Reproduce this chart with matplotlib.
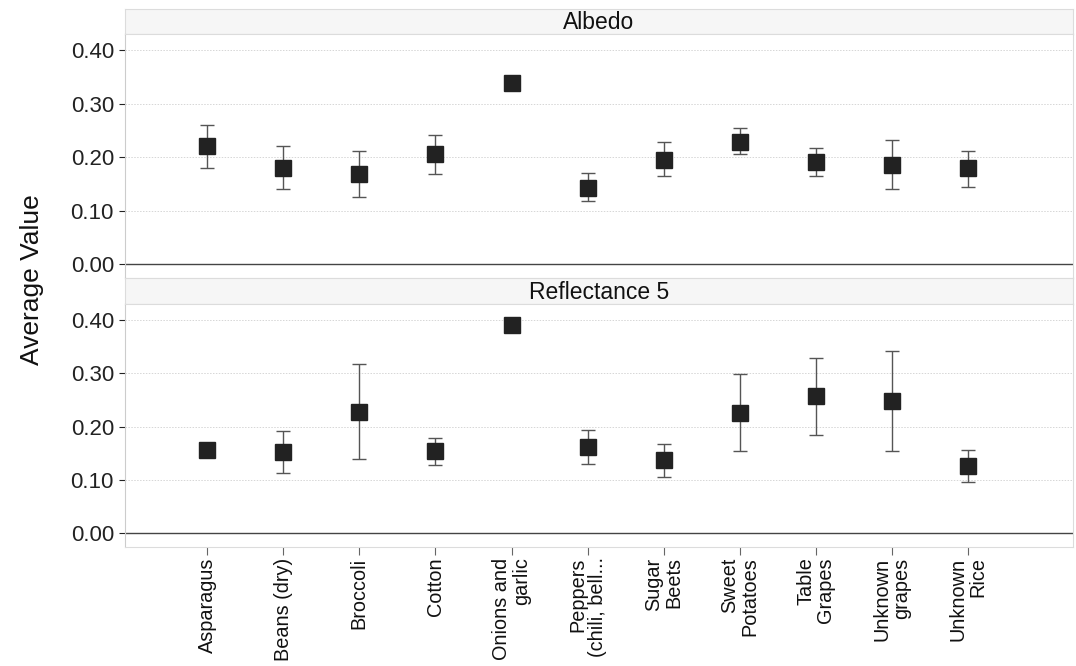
import matplotlib.pyplot as plt

plt.rcParams['font.family'] = ['Liberation Sans', 'DejaVu Sans']

# categories (x tick labels)
crops = ["Asparagus", "Beans (dry)", "Broccoli", "Cotton", "Onions and\ngarlic",
         "Peppers\n(chili, bell...", "Sugar\nBeets", "Sweet\nPotatoes", "Table\nGrapes",
         "Unknown\ngrapes", "Unknown\nRice"]

# Albedo: mean, upper whisker, lower whisker (None = no error bar)
albedo = [0.220, 0.180, 0.169, 0.206, 0.338, 0.143, 0.195, 0.229, 0.190, 0.185, 0.179]
albedo_hi = [0.259, 0.220, 0.212, 0.242, None, 0.170, 0.228, 0.255, 0.217, 0.231, 0.212]
albedo_lo = [0.180, 0.140, 0.125, 0.168, None, 0.118, 0.164, 0.205, 0.164, 0.140, 0.145]

# Reflectance 5
refl = [0.156, 0.152, 0.228, 0.154, 0.390, 0.162, 0.137, 0.226, 0.257, 0.248, 0.126]
refl_hi = [None, 0.192, 0.317, 0.178, None, 0.193, 0.168, 0.298, 0.329, 0.342, 0.156]
refl_lo = [None, 0.112, 0.140, 0.128, None, 0.129, 0.106, 0.154, 0.185, 0.155, 0.096]

W, H = 1076, 666
fig = plt.figure(figsize=(W / 100, H / 100), dpi=100)

left, right = 125, 1073
panels = [
    ("Albedo", albedo, albedo_hi, albedo_lo, 9, 34, 278),
    ("Reflectance 5", refl, refl_hi, refl_lo, 278, 304, 547),
]

x = list(range(len(crops)))
axes = []
for title, vals, hi, lo, s_top, p_top, p_bot in panels:
    # strip with the panel title
    sax = fig.add_axes([left / W, 1 - p_top / H, (right - left) / W, (p_top - s_top) / H])
    sax.set_facecolor("#f6f6f6")
    sax.set_xticks([])
    sax.set_yticks([])
    for sp in sax.spines.values():
        sp.set_color("#dcdcdc")
    sax.text(0.5, 0.45, title, ha="center", va="center", fontsize=16.5, color="#111111",
             transform=sax.transAxes)

    ax = fig.add_axes([left / W, 1 - p_bot / H, (right - left) / W, (p_bot - p_top) / H])
    axes.append(ax)
    for i in x:
        if hi[i] is not None:
            ax.errorbar(i, vals[i], yerr=[[vals[i] - lo[i]], [hi[i] - vals[i]]], fmt="none",
                        ecolor="#555555", elinewidth=1, capsize=4.8, capthick=1, zorder=2)
    ax.plot(x, vals, "s", color="#222222", markersize=11.5, zorder=3)

    ax.set_xlim(-1.08, 11.38)
    ax.set_ylim(-0.026, 0.43)
    ax.set_yticks([0.0, 0.1, 0.2, 0.3, 0.4])
    ax.set_yticklabels(["0.00", "0.10", "0.20", "0.30", "0.40"])
    ax.tick_params(axis="y", labelsize=16, colors="#222222", length=4, width=0.8,
                   pad=4, labelcolor="#222222")
    for g in [0.1, 0.2, 0.3, 0.4]:
        ax.axhline(g, color="#d6d6d6", linestyle=(0, (1.5, 1.5)), linewidth=0.7, zorder=1)
    ax.axhline(0, color="#444444", linewidth=1.0, zorder=1)
    for sp in ax.spines.values():
        sp.set_color("#dcdcdc")
    ax.spines["left"].set_color("#cccccc")

axes[0].set_xticks([])
axes[1].set_xticks(x)
axes[1].set_xticklabels(crops, rotation=90, fontsize=14.3, color="#111111",
                        multialignment="right", linespacing=1.05)
axes[1].tick_params(axis="x", length=6, width=0.8, colors="#666666", labelcolor="#111111", pad=1.5)

fig.text(32 / W, 1 - 280 / H, "Average Value", rotation=90, ha="center", va="center",
         fontsize=19, color="#111111")

fig.savefig("out.png", dpi=100)
